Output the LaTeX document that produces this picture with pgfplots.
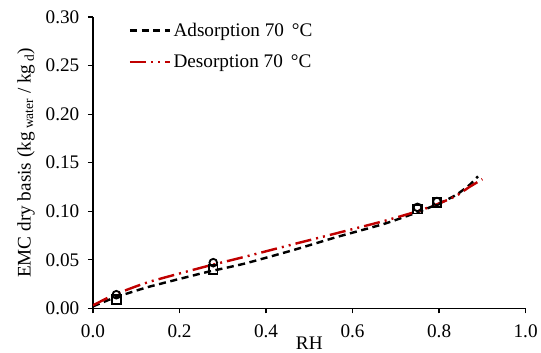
\documentclass[border=0pt]{standalone}
\usepackage{pgfplots}
\pgfplotsset{compat=1.18}
\usepackage{fontspec}
\setmainfont{Liberation Serif}
\definecolor{dred}{RGB}{192,0,0}
\begin{document}
\begin{tikzpicture}
\begin{axis}[
  scale only axis, width=428pt, height=288pt,
  font=\fontsize{19}{22}\selectfont,
  xmin=0, xmax=1, ymin=0, ymax=0.30,
  axis lines=left, axis line style={line width=1.4pt,-},
  xtick={0,0.2,...,1.0}, ytick={0,0.05,...,0.30},
  tick style={line width=1.4pt,black}, tick align=outside, major tick length=5pt,
  /pgf/number format/assume math mode=true,
  xticklabel style={yshift=-8pt,/pgf/number format/.cd,fixed,fixed zerofill,precision=1},
  yticklabel style={xshift=-5pt,/pgf/number format/.cd,fixed,fixed zerofill,precision=2},
  xlabel={RH}, xlabel style={yshift=8pt},
  ylabel={EMC dry basis (kg\,\textsubscript{water} / kg\,\textsubscript{d})}, ylabel style={yshift=4pt},
  legend style={draw=none, fill=none, at={(0.075,0.995)}, anchor=north west, row sep=13pt, font=\fontsize{19}{22}\selectfont},
  legend cell align=left,
  legend image code/.code={\draw[#1] (0pt,0pt) -- (40pt,0pt);},
]
\addplot[black, line width=2.4pt, dash pattern=on 7pt off 4.5pt, smooth, tension=0.3] coordinates {
 (0,0.002) (0.05,0.011) (0.128,0.022) (0.26,0.037) (0.35,0.046) (0.463,0.060) (0.56,0.073) (0.673,0.087) (0.75,0.099) (0.8,0.108) (0.84,0.117) (0.87,0.127) (0.89,0.136)};
\addlegendentry{Adsorption 70 \,°C}
\addplot[dred, line width=2.4pt, dash pattern=on 16pt off 5pt on 2pt off 5pt on 2pt off 5pt, smooth, tension=0.3] coordinates {
 (0,0.003) (0.049,0.014) (0.128,0.027) (0.26,0.043) (0.35,0.053) (0.463,0.066) (0.56,0.077) (0.673,0.090) (0.75,0.100) (0.8,0.108) (0.84,0.116) (0.87,0.125) (0.9,0.133)};
\addlegendentry{Desorption 70 \,°C}
\addplot[only marks, mark=square, mark size=4.2pt, black, line width=1.8pt, forget plot] coordinates {
 (0.054,0.009) (0.278,0.040) (0.75,0.102) (0.795,0.109)};
\addplot[only marks, mark=o, mark size=3.8pt, black, line width=1.8pt, forget plot] coordinates {
 (0.054,0.014) (0.278,0.047) (0.75,0.104) (0.795,0.110)};
\end{axis}
\path (current axis.south west) ++(-92pt,0pt);
\path (current axis.north west) ++(0pt,17pt);
\end{tikzpicture}
\end{document}
